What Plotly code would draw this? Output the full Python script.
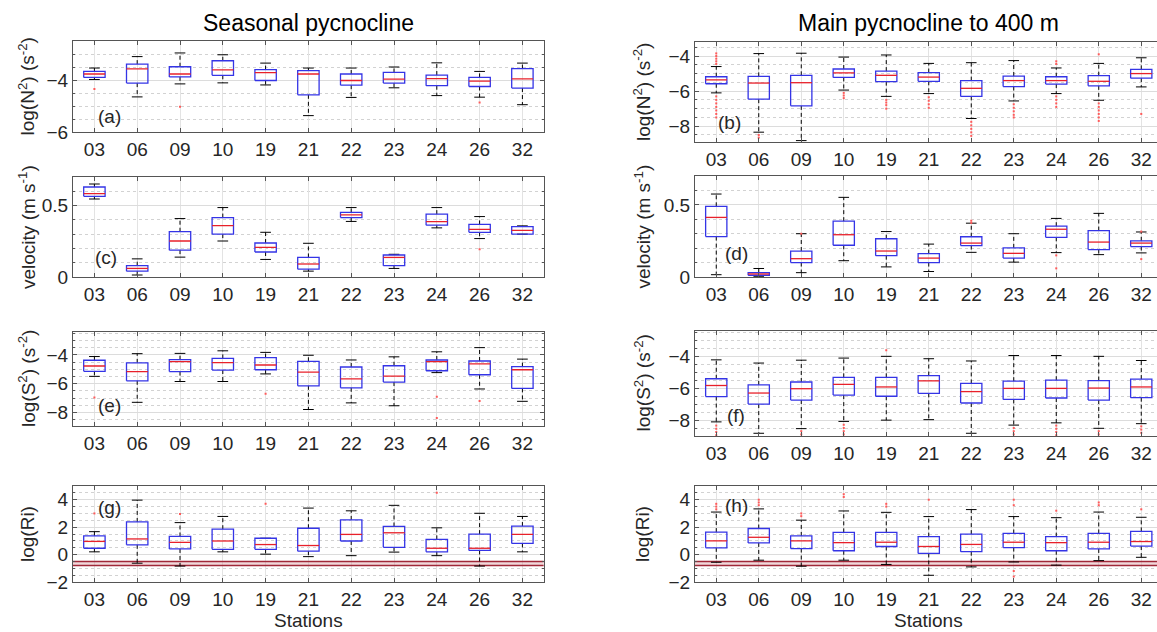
import plotly.graph_objects as go

stations = ["03", "06", "09", "10", "19", "21", "22", "23", "24", "26", "32"]

# ---------------- (a) Seasonal pycnocline, log(N^2)
a_q1 = [-3.90, -4.12, -3.88, -3.82, -4.02, -4.57, -4.20, -4.12, -4.22, -4.25, -4.31]
a_med = [-3.77, -3.57, -3.77, -3.61, -3.72, -3.77, -4.02, -3.97, -3.95, -4.04, -3.96]
a_q3 = [-3.67, -3.39, -3.49, -3.26, -3.60, -3.64, -3.77, -3.71, -3.81, -3.90, -3.56]
a_lo = [-3.98, -4.65, -4.15, -4.11, -4.19, -5.37, -4.67, -4.30, -4.60, -4.66, -4.95]
a_hi = [-3.54, -3.10, -2.96, -3.03, -3.35, -3.54, -3.54, -3.50, -3.34, -3.67, -3.35]
a_out = [[-4.35], [], [-5.03], [], [], [], [], [], [], [-4.87], []]

# ---------------- (b) Main pycnocline, log(N^2)
b_q1 = [-5.58, -6.46, -6.84, -5.22, -5.46, -5.44, -6.30, -5.74, -5.60, -5.70, -5.26]
b_med = [-5.36, -5.54, -5.52, -4.96, -5.10, -5.20, -5.84, -5.40, -5.40, -5.44, -5.00]
b_q3 = [-5.18, -5.16, -5.10, -4.74, -4.86, -4.94, -5.40, -5.14, -5.18, -5.12, -4.76]
b_lo = [-6.10, -8.34, -8.82, -5.94, -6.30, -6.14, -7.56, -6.56, -6.14, -6.52, -5.76]
b_hi = [-4.60, -3.86, -3.84, -4.06, -3.94, -4.42, -4.38, -4.26, -4.68, -4.42, -4.10]
b_out = [[-3.85, -4.0, -4.15, -4.3, -4.45, -6.3, -6.5, -6.7, -6.9, -7.1, -7.3, -7.5],
         [-8.5, -8.65],
         [],
         [-6.1, -6.25, -6.4],
         [-6.5, -6.65, -6.8, -7.0],
         [-6.35, -6.55, -6.75, -6.95],
         [-7.75, -7.95, -8.15, -8.35, -8.55],
         [-6.75, -6.95, -7.15, -7.35, -7.5],
         [-4.3, -4.45, -6.3, -6.5, -6.7, -6.9],
         [-3.9, -6.7, -6.9, -7.1, -7.3, -7.5, -7.7],
         [-7.3]]

# ---------------- (c) Seasonal pycnocline, velocity
c_q1 = [0.565, 0.041, 0.188, 0.300, 0.175, 0.055, 0.416, 0.079, 0.363, 0.313, 0.300]
c_med = [0.584, 0.060, 0.252, 0.360, 0.207, 0.091, 0.435, 0.137, 0.387, 0.334, 0.327]
c_q3 = [0.630, 0.079, 0.317, 0.416, 0.238, 0.137, 0.452, 0.154, 0.440, 0.368, 0.353]
c_lo = [0.546, 0.014, 0.139, 0.252, 0.123, 0.041, 0.389, 0.060, 0.344, 0.269, 0.300]
c_hi = [0.651, 0.127, 0.409, 0.486, 0.313, 0.236, 0.486, 0.159, 0.486, 0.423, 0.358]
c_out = [[], [], [], [], [], [], [], [], [], [0.195], []]

# ---------------- (d) Main pycnocline, velocity
d_q1 = [0.280, 0.012, 0.100, 0.220, 0.148, 0.100, 0.218, 0.131, 0.275, 0.190, 0.211]
d_med = [0.413, 0.021, 0.127, 0.293, 0.180, 0.131, 0.235, 0.164, 0.331, 0.242, 0.235]
d_q3 = [0.490, 0.030, 0.180, 0.387, 0.265, 0.162, 0.279, 0.202, 0.352, 0.322, 0.251]
d_lo = [0.016, 0.005, 0.030, 0.113, 0.070, 0.038, 0.171, 0.103, 0.169, 0.155, 0.167]
d_hi = [0.575, 0.059, 0.300, 0.552, 0.315, 0.228, 0.373, 0.300, 0.406, 0.441, 0.312]
d_out = [[], [], [0.30], [], [], [], [0.375, 0.39], [], [0.15, 0.06], [], [0.315, 0.124]]

# ---------------- (e) Seasonal pycnocline, log(S^2)
e_q1 = [-5.14, -5.80, -5.16, -5.05, -5.03, -6.15, -6.29, -5.89, -5.10, -5.38, -6.33]
e_med = [-4.77, -5.16, -4.46, -4.53, -4.70, -5.20, -5.67, -5.47, -4.46, -4.62, -5.03]
e_q3 = [-4.37, -4.55, -4.33, -4.24, -4.18, -4.44, -4.84, -4.75, -4.35, -4.42, -4.81]
e_lo = [-5.49, -7.30, -5.85, -5.85, -5.32, -7.80, -7.34, -7.54, -5.23, -6.37, -7.23]
e_hi = [-4.11, -3.91, -3.89, -3.71, -3.82, -4.02, -4.35, -4.13, -3.78, -3.49, -4.29]
e_out = [[-6.97], [], [], [], [-6.70], [], [], [], [-6.92, -8.40], [-7.20], []]

# ---------------- (f) Main pycnocline, log(S^2)
f_q1 = [-6.49, -6.96, -6.71, -6.40, -6.47, -6.29, -6.89, -6.67, -6.58, -6.71, -6.56]
f_med = [-5.80, -6.27, -6.00, -5.73, -5.89, -5.51, -6.18, -5.98, -5.98, -5.96, -5.89]
f_q3 = [-5.38, -5.76, -5.58, -5.29, -5.29, -5.18, -5.67, -5.53, -5.47, -5.49, -5.40]
f_lo = [-8.07, -8.78, -8.49, -8.04, -7.96, -7.93, -8.78, -8.27, -8.13, -8.47, -8.18]
f_hi = [-4.20, -4.40, -4.22, -4.09, -3.98, -4.13, -4.27, -3.93, -3.93, -3.98, -4.24]
f_out = [[-8.3, -8.5, -8.7, -8.9],
         [],
         [-8.65, -8.85],
         [-8.25, -8.45, -8.65, -8.85],
         [-3.6],
         [],
         [],
         [-8.45, -8.65, -8.85],
         [-8.3, -8.5, -8.7, -8.9],
         [-8.65, -8.85],
         [-8.35, -8.55, -8.75]]

# ---------------- (g) Seasonal pycnocline, log(Ri)
g_q1 = [0.46, 0.71, 0.41, 0.38, 0.38, 0.25, 0.99, 0.53, 0.20, 0.30, 0.81]
g_med = [0.96, 1.14, 0.89, 0.99, 0.73, 0.66, 1.47, 1.59, 0.46, 0.46, 1.47]
g_q3 = [1.37, 2.38, 1.32, 1.85, 1.19, 1.92, 2.53, 2.05, 1.11, 1.49, 2.08]
g_lo = [0.20, -0.63, -0.84, 0.20, 0.03, -0.15, -0.08, 0.18, -0.08, -0.84, 0.20]
g_hi = [1.67, 3.97, 2.33, 2.78, 1.19, 3.39, 3.19, 3.59, 1.95, 3.01, 2.78]
g_out = [[3.0], [], [2.96], [], [3.7], [], [], [], [4.5], [], []]

# ---------------- (h) Main pycnocline, log(Ri)
h_q1 = [0.49, 0.85, 0.44, 0.28, 0.59, 0.08, 0.21, 0.51, 0.28, 0.41, 0.62]
h_med = [1.00, 1.26, 1.00, 0.87, 0.90, 0.59, 0.74, 0.90, 0.87, 0.90, 0.95]
h_q3 = [1.64, 1.90, 1.36, 1.62, 1.62, 1.31, 1.49, 1.54, 1.31, 1.54, 1.69]
h_lo = [-0.56, -0.41, -0.85, -0.41, -0.72, -1.51, -0.90, -0.54, -0.77, -0.44, -0.20]
h_hi = [3.10, 3.33, 2.51, 3.18, 3.08, 2.77, 3.28, 2.77, 2.69, 3.10, 2.72]
h_out = [[3.3, 3.5, 3.7], [3.6, 3.8, 4.0], [2.8, 3.0], [4.2, 4.4], [3.5, 3.7],
         [4.0], [], [3.6, 4.0, -1.2, -1.6], [3.2], [3.6, 3.8], [3.3]]

# Richardson reference lines (log Ri)
ri_ref = [-0.5, -0.8]

panel_labels = ["(a)", "(b)", "(c)", "(d)", "(e)", "(f)", "(g)", "(h)"]
label_x = [1.35, 1.3, 1.28, 1.47, 1.35, 1.47, 1.35, 1.47]
label_y = [-5.4, -7.8, 0.14, 0.16, -7.5, -7.67, 3.42, 3.6]

ytitles = ["log(N<sup>2</sup>) (s<sup>-2</sup>)", "velocity (m s<sup>-1</sup>)",
           "log(S<sup>2</sup>) (s<sup>-2</sup>)", "log(Ri)"]
col_titles = ["Seasonal pycnocline", "Main pycnocline to 400 m"]

panels = [
    (a_q1, a_med, a_q3, a_lo, a_hi, a_out),
    (b_q1, b_med, b_q3, b_lo, b_hi, b_out),
    (c_q1, c_med, c_q3, c_lo, c_hi, c_out),
    (d_q1, d_med, d_q3, d_lo, d_hi, d_out),
    (e_q1, e_med, e_q3, e_lo, e_hi, e_out),
    (f_q1, f_med, f_q3, f_lo, f_hi, f_out),
    (g_q1, g_med, g_q3, g_lo, g_hi, g_out),
    (h_q1, h_med, h_q3, h_lo, h_hi, h_out),
]

# ---------------- layout geometry (pixels)
W, H = 1157, 632
col_px = [(73.0, 42.8), (695.0, 42.5)]  # left edge, category pitch
row_px = [
    [(41, 132), (177, 277), (332, 426), (486, 582)],   # left column
    [(42, 142), (176, 277), (331, 436), (486, 582)],   # right column
]
y_ranges = [[-6, -2.5], [-8.9, -3.2], [0, 0.7], [0, 0.7],
            [-8.95, -2.4], [-8.95, -2.4], [-2, 5], [-2, 5]]
y_dtick = [2, 2, 0.5, 0.5, 2, 2, 2, 2]
y_minor = [0.5, 0.5, 0.1, 0.1, 0.5, 0.5, 0.5, 0.5]

FONT = "Liberation Sans, Arial, Helvetica, sans-serif"
TXT = "#262626"
AXC = "#555555"
BOXW = 0.25
CAPW = 0.125

pos = list(range(1, len(stations) + 1))

fig = go.Figure()
layout = dict(
    width=W, height=H,
    margin=dict(l=0, r=0, t=0, b=0),
    paper_bgcolor="white", plot_bgcolor="white",
    showlegend=False,
    font=dict(family=FONT, size=19, color=TXT),
    annotations=[],
)

for k, (q1, med, q3, lo, hi, out) in enumerate(panels):
    row, col = divmod(k, 2)
    n = k + 1
    xa = "x" if n == 1 else f"x{n}"
    ya = "y" if n == 1 else f"y{n}"
    left, pitch = col_px[col]
    right = left + pitch * len(stations)
    top, bot = row_px[col][row]
    if right > W:
        xr = [0.5, 0.5 + (W - left) / pitch]
        xdom = [left / W, 1.0]
    else:
        xr = [0.5, len(stations) + 0.5]
        xdom = [left / W, right / W]
    ydom = [1 - bot / H, 1 - top / H]

    # Ri reference band (drawn first, beneath the boxes)
    if row == 3:
        fig.add_trace(go.Scatter(x=[0.5, 11.5], y=[ri_ref[0]] * 2, mode="lines",
                                 xaxis=xa, yaxis=ya,
                                 line=dict(color="#a02838", width=1.4), hoverinfo="skip"))
        fig.add_trace(go.Scatter(x=[0.5, 11.5], y=[ri_ref[1]] * 2, mode="lines",
                                 xaxis=xa, yaxis=ya, fill="tonexty",
                                 fillcolor="rgba(215,140,150,0.35)",
                                 line=dict(color="#a02838", width=1.4), hoverinfo="skip"))

    # whiskers (dashed)
    wx, wy = [], []
    for p, a, b, c, d in zip(pos, q1, q3, lo, hi):
        wx += [p, p, None, p, p, None]
        wy += [b, d, None, a, c, None]
    fig.add_trace(go.Scatter(x=wx, y=wy, mode="lines", xaxis=xa, yaxis=ya,
                             line=dict(color="black", width=1, dash="4px,3px"),
                             hoverinfo="skip"))
    # caps
    cx, cy = [], []
    for p, c, d in zip(pos, lo, hi):
        cx += [p - CAPW, p + CAPW, None, p - CAPW, p + CAPW, None]
        cy += [d, d, None, c, c, None]
    fig.add_trace(go.Scatter(x=cx, y=cy, mode="lines", xaxis=xa, yaxis=ya,
                             line=dict(color="black", width=1), hoverinfo="skip"))
    # boxes
    bx, by = [], []
    for p, a, b in zip(pos, q1, q3):
        bx += [p - BOXW, p + BOXW, p + BOXW, p - BOXW, p - BOXW, None]
        by += [a, a, b, b, a, None]
    fig.add_trace(go.Scatter(x=bx, y=by, mode="lines", xaxis=xa, yaxis=ya,
                             line=dict(color="#3434e6", width=1.3), hoverinfo="skip"))
    # medians
    mx, my = [], []
    for p, m in zip(pos, med):
        mx += [p - BOXW, p + BOXW, None]
        my += [m, m, None]
    fig.add_trace(go.Scatter(x=mx, y=my, mode="lines", xaxis=xa, yaxis=ya,
                             line=dict(color="#e8202a", width=1.3), hoverinfo="skip"))
    # outliers
    ox, oy = [], []
    for p, vals in zip(pos, out):
        for v in vals:
            ox.append(p)
            oy.append(v)
    if ox:
        fig.add_trace(go.Scatter(x=ox, y=oy, mode="markers", xaxis=xa, yaxis=ya,
                                 marker=dict(color="#ff5a5a", size=2, symbol="square"),
                                 hoverinfo="skip"))

    key = n if n > 1 else ""
    layout[f"xaxis{key}"] = dict(
        domain=xdom, range=xr, anchor=ya, tickmode="array", tickvals=pos,
        ticktext=stations, ticks="inside", ticklen=4, tickcolor=AXC,
        showline=True, linecolor=AXC, linewidth=1.2, mirror="ticks",
        showgrid=True, gridcolor="#e3e3e3", gridwidth=1, zeroline=False,
        tickfont=dict(size=19, color=TXT), automargin=False, fixedrange=True,
    )
    layout[f"yaxis{key}"] = dict(
        domain=ydom, range=y_ranges[k], anchor=xa, tick0=0, dtick=y_dtick[k],
        ticks="inside", ticklen=4, tickcolor=AXC,
        showline=True, linecolor=AXC, linewidth=1.2,
        mirror="ticks" if col == 0 else False,
        showgrid=True, gridcolor="#dcdcdc", gridwidth=1, zeroline=False,
        minor=dict(dtick=y_minor[k], tick0=0, showgrid=True, gridcolor="#d2d2d2",
                   griddash="dot", gridwidth=1, ticks="inside", ticklen=2, tickcolor=AXC),
        tickfont=dict(size=19, color=TXT), automargin=False, fixedrange=True,
    )

    # panel label
    layout["annotations"].append(dict(
        x=label_x[k], y=label_y[k], xref=xa, yref=ya, text=panel_labels[k],
        showarrow=False, font=dict(size=19, color=TXT), xanchor="center", yanchor="middle"))
    # y-axis title
    layout["annotations"].append(dict(
        x=(27 if col == 0 else 642) / W, y=1 - (top + bot) / 2 / H,
        xref="paper", yref="paper", text=ytitles[row], textangle=-90,
        showarrow=False, font=dict(size=19, color=TXT), xanchor="center", yanchor="middle"))

# column titles and x titles
for col in range(2):
    left, pitch = col_px[col]
    cxp = left + pitch * len(stations) / 2
    layout["annotations"].append(dict(
        x=cxp / W, y=1 - 23 / H, xref="paper", yref="paper", text=col_titles[col],
        showarrow=False, font=dict(size=23, color="black"), xanchor="center", yanchor="middle"))
    layout["annotations"].append(dict(
        x=cxp / W, y=1 - 620 / H, xref="paper", yref="paper", text="Stations",
        showarrow=False, font=dict(size=19, color=TXT), xanchor="center", yanchor="middle"))

fig.update_layout(**layout)
fig.write_html("out.html")
